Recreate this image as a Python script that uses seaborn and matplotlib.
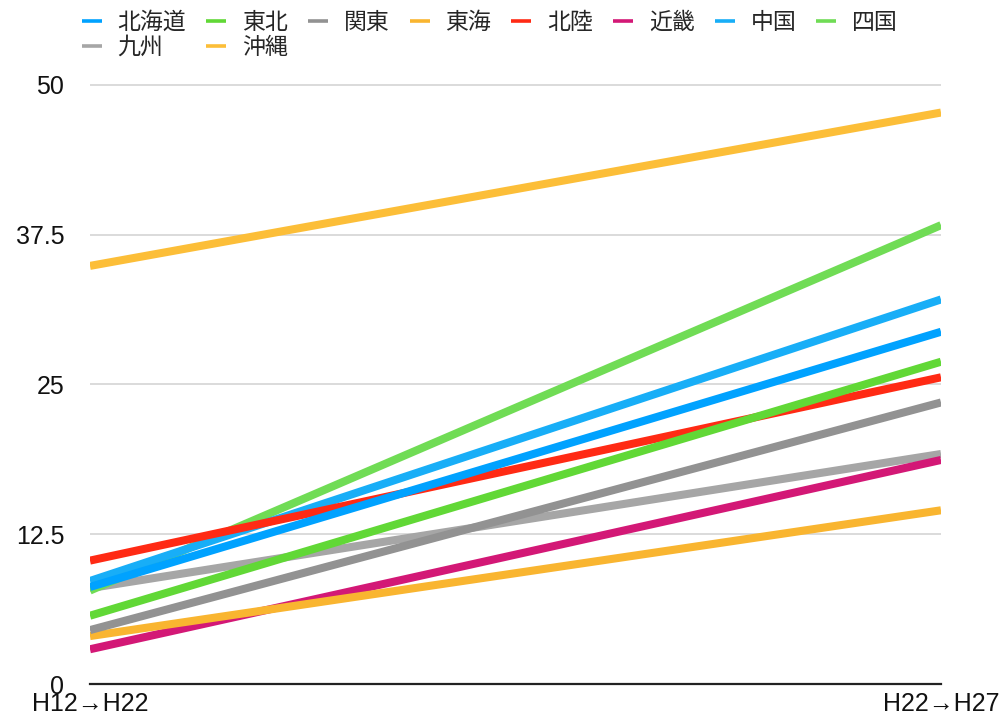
import matplotlib
matplotlib.use("Agg")
import matplotlib.pyplot as plt
from matplotlib.lines import Line2D
import pandas as pd
import seaborn as sns

# Periods on the x axis
periods = ["H12→H22", "H22→H27"]

# Regions and their values for each period
regions = ["北海道", "東北", "関東", "東海", "北陸", "近畿", "中国", "四国", "九州", "沖縄"]
start_values = [8.1, 5.7, 4.5, 4.0, 10.3, 2.9, 8.6, 7.8, 8.0, 34.9]
end_values = [29.4, 26.9, 23.5, 14.5, 25.6, 18.7, 32.1, 38.3, 19.2, 47.7]

colors = ["#00A2FF", "#61D836", "#929292", "#F9B530", "#FF2A14",
          "#D31876", "#18AEF7", "#70DC55", "#A6A6A6", "#FCBE38"]

y_ticks = [0, 12.5, 25, 37.5, 50]
y_tick_labels = ["0", "12.5", "25", "37.5", "50"]

rows = []
for r, a, b in zip(regions, start_values, end_values):
    rows.append({"region": r, "x": 0, "value": a})
    rows.append({"region": r, "x": 1, "value": b})
df = pd.DataFrame(rows)
palette = dict(zip(regions, colors))

sns.set_theme(style="white")
plt.rcParams["font.family"] = ["Liberation Sans", "Noto Sans CJK JP", "DejaVu Sans"]

fig = plt.figure(figsize=(10.01, 7.21), dpi=100)
ax = fig.add_axes([90 / 1001, 37 / 721, 851 / 1001, 605 / 721])

# draw in reverse so the first regions sit on top
sns.lineplot(data=df, x="x", y="value", hue="region",
             hue_order=regions[::-1], palette=palette,
             linewidth=5.8, legend=False, ax=ax,
             solid_capstyle="butt")

ax.set_xlim(0, 1)
ax.set_ylim(0, 50.5)
ax.set_yticks(y_ticks)
ax.set_yticklabels(y_tick_labels)
ax.set_xticks([0, 1])
ax.set_xticklabels(periods)
ax.set_xlabel("")
ax.set_ylabel("")

ax.tick_params(axis="y", length=0, pad=18.5, labelsize=18, labelcolor="#111111")
ax.tick_params(axis="x", length=0, pad=6, labelsize=18, labelcolor="#111111")

ax.yaxis.grid(True, color="#D4D4D4", linewidth=1.2)
ax.set_axisbelow(True)
for side in ["left", "right", "top"]:
    ax.spines[side].set_visible(False)
ax.spines["bottom"].set_color("#222222")
ax.spines["bottom"].set_linewidth(1.6)
ax.spines["bottom"].set_capstyle("projecting")

# legend laid out row by row (matplotlib fills columns first)
order = [0, 8, 1, 9, 2, 3, 4, 5, 6, 7]
handles = [Line2D([], [], color=colors[i], linewidth=2.6, solid_capstyle="butt") for i in order]
labels = [regions[i] for i in order]
fig.legend(handles, labels, ncol=8, loc="upper left",
           bbox_to_anchor=(81.7 / 1001, 0.985), frameon=False,
           borderpad=0, borderaxespad=0, handlelength=0.87,
           handletextpad=0.7, columnspacing=0.87, labelspacing=0.1,
           prop={"family": ["Noto Sans CJK JP", "DejaVu Sans"], "size": 16.5})

fig.savefig("out.png", dpi=100)
